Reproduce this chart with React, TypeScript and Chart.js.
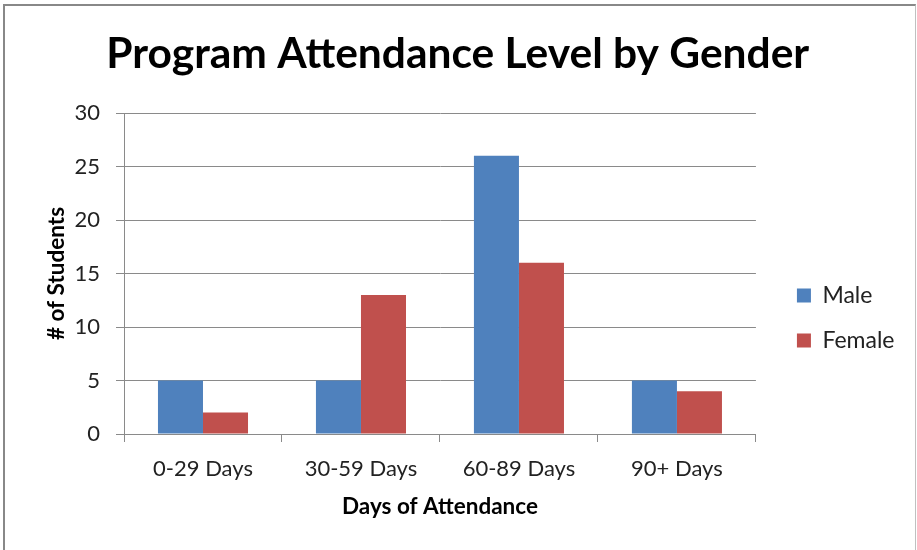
import React, { useEffect, useRef } from "react";
import { Chart, registerables } from "chart.js";

Chart.register(...registerables);

const categories = ["0-29 Days", "30-59 Days", "60-89 Days", "90+ Days"];
const maleValues = [5, 5, 26, 5];
const femaleValues = [2, 13, 16, 4];
const yTicks = { min: 0, max: 30, step: 5 };

const FONT = "Lato, 'Open Sans', sans-serif";

const layoutShift = {
  id: "layoutShift",
  afterLayout(chart: any) {
    if (chart.legend) {
      chart.legend.left += 19;
      chart.legend.right += 19;
      chart.legend.top += 43;
      chart.legend.bottom += 43;
    }
    if (chart.titleBlock) {
      chart.titleBlock.left += 15;
      chart.titleBlock.right += 15;
    }
  },
};

export default function App() {
  const ref = useRef<HTMLCanvasElement | null>(null);
  useEffect(() => {
    if (!ref.current) return;
    const chart = new Chart(ref.current, {
      type: "bar",
      data: {
        labels: categories,
        datasets: [
          { label: "Male", data: maleValues, backgroundColor: "#4F81BD", categoryPercentage: 0.57, barPercentage: 1 },
          { label: "Female", data: femaleValues, backgroundColor: "#C0504D", categoryPercentage: 0.57, barPercentage: 1 },
        ],
      },
      plugins: [layoutShift],
      options: {
        responsive: false,
        animation: false,
        layout: { padding: { top: 0, left: 0, right: 31.5, bottom: 0 } },
        plugins: {
          tooltip: { enabled: false },
          title: {
            display: true,
            text: "Program Attendance Level by Gender",
            color: "#000",
            font: { family: FONT, size: 42.5, weight: "bold" },
            padding: { top: 29, bottom: 33 },
          },
          legend: {
            position: "right",
            labels: {
              boxWidth: 14,
              boxHeight: 14,
              padding: 22,
              color: "#222",
              font: { family: FONT, size: 23 },
            },
          },
        },
        scales: {
          x: {
            afterFit(scale: any) { scale.height = 116; },
            grid: { display: true, drawOnChartArea: false, drawTicks: true, tickLength: 8, color: "#8a8a8a", offset: true },
            border: { color: "#8a8a8a" },
            ticks: { color: "#222", font: { family: FONT, size: 22 }, padding: 14 },
            title: {
              display: true,
              text: "Days of Attendance",
              color: "#000",
              font: { family: FONT, size: 22.5, weight: "bold" },
              padding: { top: 0, bottom: 30 },
            },
          },
          y: {
            min: yTicks.min,
            max: yTicks.max,
            afterFit(scale: any) { scale.width = 124; },
            grid: { color: "#8a8a8a", tickLength: 8 },
            border: { color: "#8a8a8a" },
            ticks: { stepSize: yTicks.step, color: "#222", font: { family: FONT, size: 22 }, padding: 16 },
            title: {
              display: true,
              text: "# of Students",
              color: "#000",
              font: { family: FONT, size: 22.5, weight: "bold" },
              padding: { top: 43, bottom: 0 },
            },
          },
        },
      },
    });
    return () => chart.destroy();
  }, []);

  return (
    <div style={{ position: "fixed", left: 0, top: 0, width: 917, height: 550, background: "#fff" }}>
      <canvas ref={ref} width={917} height={550} style={{ position: "absolute", left: 0, top: 0 }} />
      <div
        style={{
          position: "absolute",
          left: 3,
          top: 4,
          width: 910,
          height: 560,
          borderTop: "2px solid #888",
          borderLeft: "2px solid #888",
          borderRight: "1px solid #c0c0c0",
          pointerEvents: "none",
        }}
      />
    </div>
  );
}
